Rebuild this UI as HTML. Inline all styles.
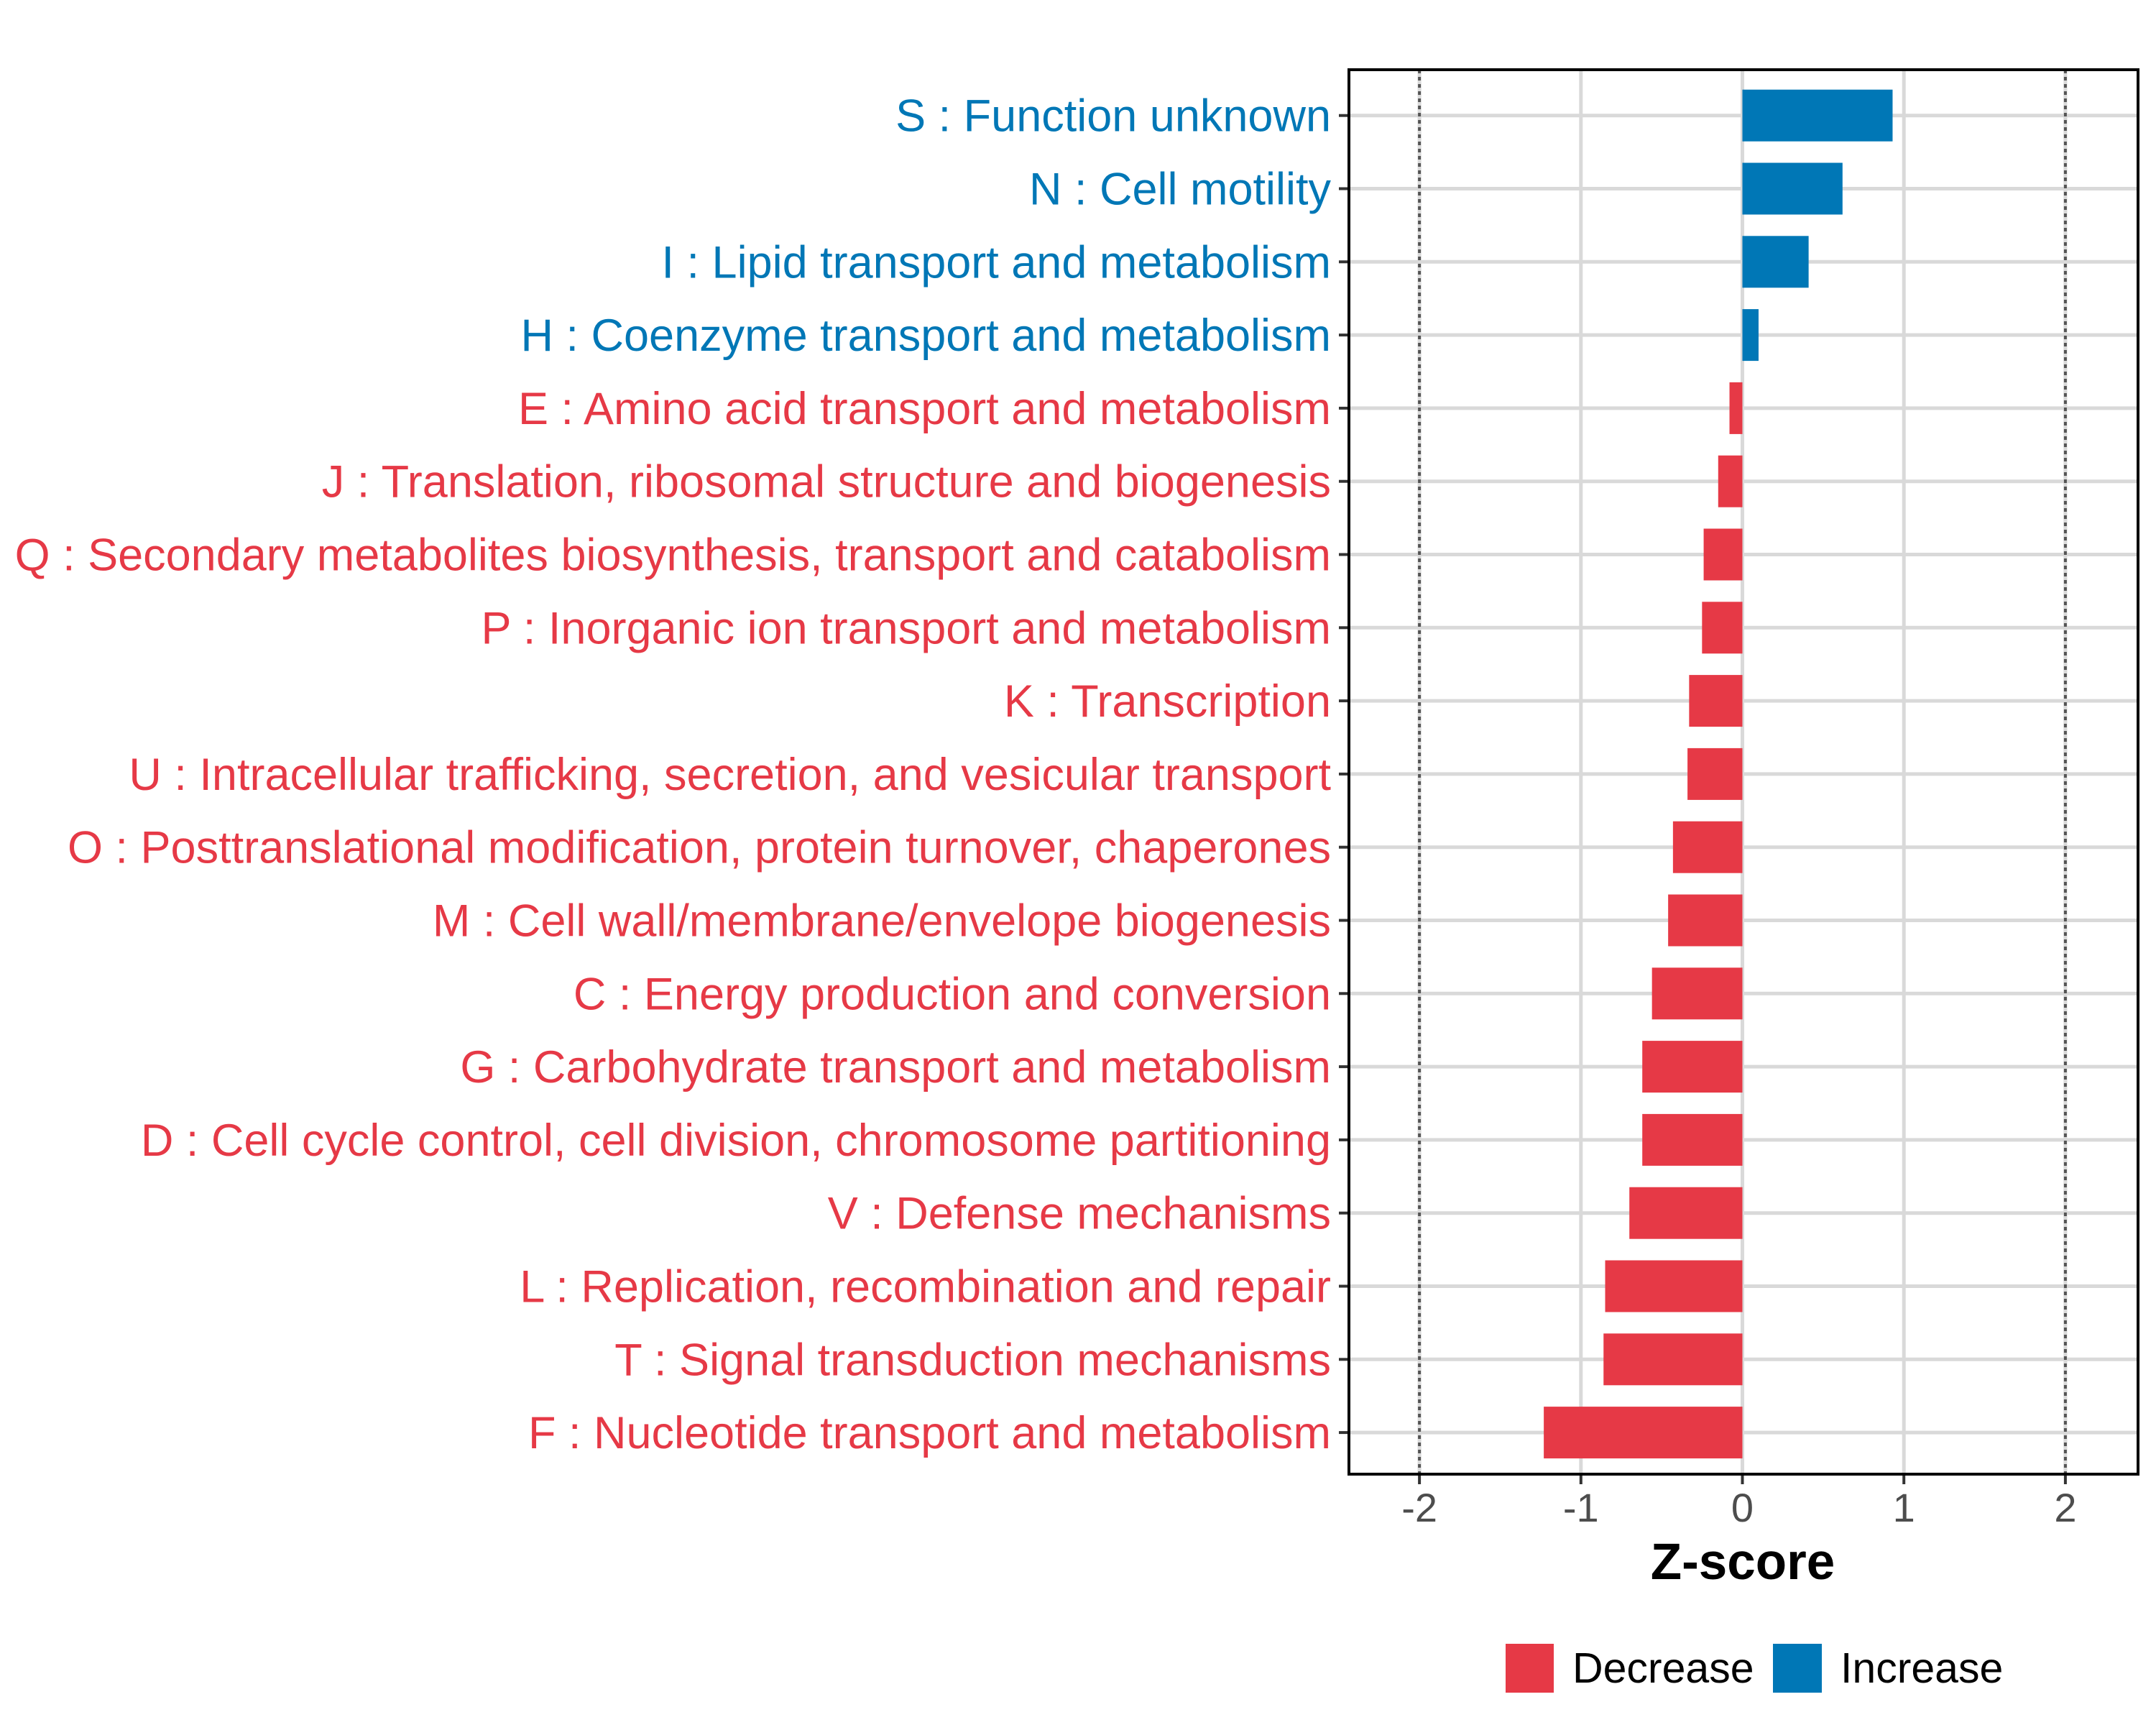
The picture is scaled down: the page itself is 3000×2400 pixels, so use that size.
<!DOCTYPE html>
<html><head><meta charset="utf-8"><style>
html,body{margin:0;padding:0;background:#fff;}
svg{display:block;font-family:"Liberation Sans",sans-serif;}
</style></head><body>
<svg id="chart" width="3000" height="2400" viewBox="0 0 3000 2400" xmlns="http://www.w3.org/2000/svg">
<rect x="0" y="0" width="3000" height="2400" fill="#fff"/>
<g id="grid"></g><g id="bars"></g><g id="ylabels"></g><g id="xaxis"></g>
<text x="2425" y="2197" font-size="71" font-weight="bold" text-anchor="middle" fill="#000">Z-score</text>
<g>
<rect x="2095" y="2287" width="67" height="68" fill="#E63946"/>
<text x="2188" y="2341" font-size="59" fill="#000">Decrease</text>
<rect x="2467" y="2287" width="68" height="68" fill="#0077B6"/>
<text x="2561" y="2341" font-size="59" fill="#000">Increase</text>
</g>
</svg>
<script>
const categories = ["S : Function unknown","N : Cell motility","I : Lipid transport and metabolism","H : Coenzyme transport and metabolism","E : Amino acid transport and metabolism","J : Translation, ribosomal structure and biogenesis","Q : Secondary metabolites biosynthesis, transport and catabolism","P : Inorganic ion transport and metabolism","K : Transcription","U : Intracellular trafficking, secretion, and vesicular transport","O : Posttranslational modification, protein turnover, chaperones","M : Cell wall/membrane/envelope biogenesis","C : Energy production and conversion","G : Carbohydrate transport and metabolism","D : Cell cycle control, cell division, chromosome partitioning","V : Defense mechanisms","L : Replication, recombination and repair","T : Signal transduction mechanisms","F : Nucleotide transport and metabolism"];
const zscores = [0.93,0.62,0.41,0.10,-0.08,-0.15,-0.24,-0.25,-0.33,-0.34,-0.43,-0.46,-0.56,-0.62,-0.62,-0.70,-0.85,-0.86,-1.23];
const xTicks = [-2,-1,0,1,2];
const xTickLabels = ["-2","-1","0","1","2"];
const thresholds = [-2,2];

const NS="http://www.w3.org/2000/svg";
const L=1877,R=2975,T=97,B=2051;
const x0=2424.5, unit=224.7;
const xs=v=>x0+v*unit;
const rowTop=160.7, rowStep=101.8;
const ys=i=>rowTop+i*rowStep;
const barH=72;
function mk(tag,attrs,parent){const e=document.createElementNS(NS,tag);for(const k in attrs)e.setAttribute(k,attrs[k]);parent.appendChild(e);return e;}
const grid=document.getElementById('grid'),bars=document.getElementById('bars'),yl=document.getElementById('ylabels'),xa=document.getElementById('xaxis');

xTicks.forEach((t,i)=>{
  const g=mk('line',{x1:xs(t),x2:xs(t),y1:T,y2:B,stroke:'#d9d9d9','stroke-width':5},grid);
  
  
  const tk=mk('line',{x1:xs(t),x2:xs(t),y1:B,y2:B+14,stroke:'#333','stroke-width':4},xa);
  
  
  const tl=mk('text',{x:xs(t),y:B+66,'font-size':56,'text-anchor':'middle',fill:'#4d4d4d'},xa);
  tl.textContent=xTickLabels[i];
  
  
});
categories.forEach((c,i)=>{
  const g=mk('line',{x1:L,x2:R,y1:ys(i),y2:ys(i),stroke:'#d9d9d9','stroke-width':5},grid);
  
  
});
thresholds.forEach(t=>{
  const d=mk('line',{x1:xs(t),x2:xs(t),y1:T,y2:B,stroke:'#555','stroke-width':4,'stroke-dasharray':'5 5'},grid);
  
  
});
categories.forEach((c,i)=>{
  const v=zscores[i];
  const col=v>=0?'#0077B6':'#E63946';
  const b=mk('rect',{x:Math.min(xs(0),xs(v)),y:ys(i)-barH/2,width:Math.abs(xs(v)-xs(0)),height:barH,fill:col},bars);
  
  
  const tk=mk('line',{x1:L-14,x2:L,y1:ys(i),y2:ys(i),stroke:'#333','stroke-width':4},yl);
  
  
  const t=mk('text',{x:1852,y:ys(i)+22,'font-size':63,'text-anchor':'end',fill:col},yl);
  t.textContent=c;
  
  
});
const fr=mk('rect',{x:L,y:T,width:R-L,height:B-T,fill:'none',stroke:'#000','stroke-width':4},xa);


</script>
</body></html>
